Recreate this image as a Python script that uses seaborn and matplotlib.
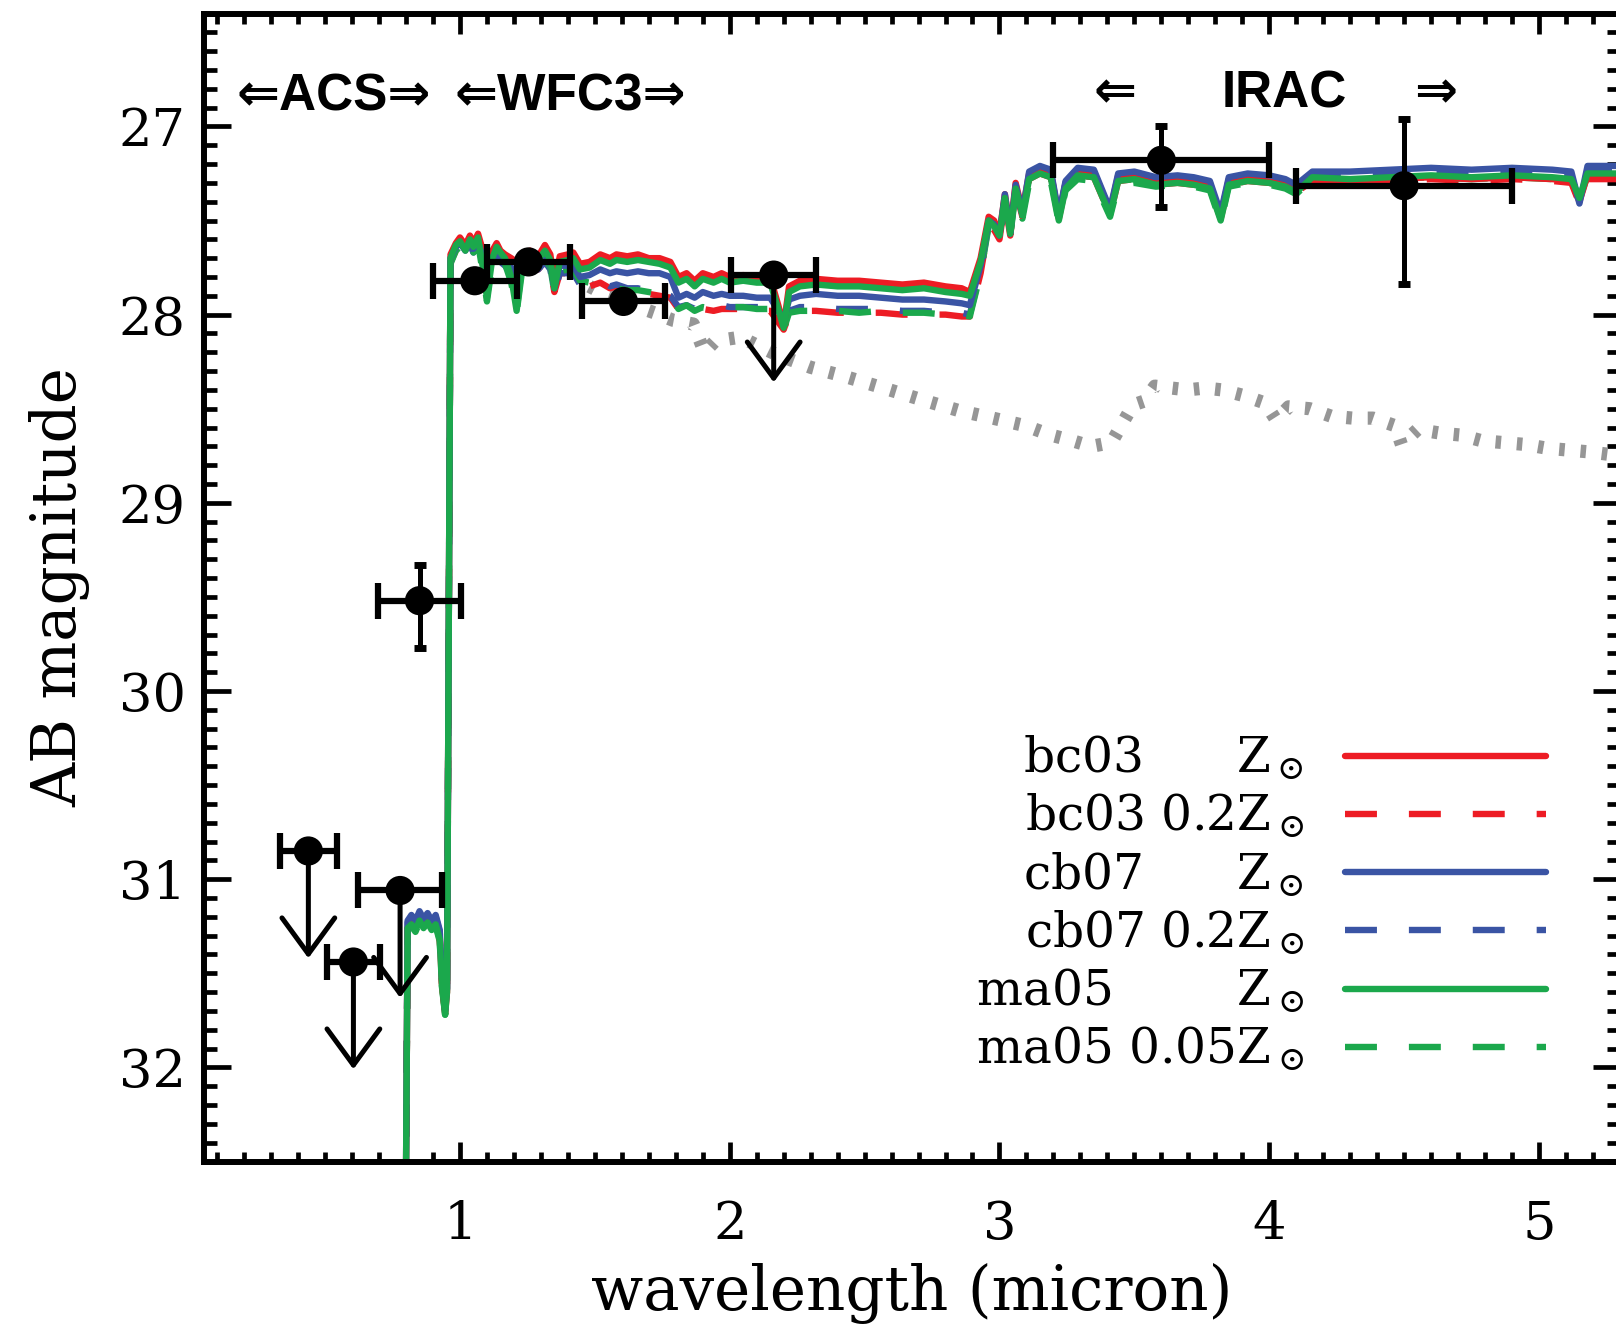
import matplotlib
matplotlib.use("Agg")
import matplotlib.pyplot as plt
from matplotlib.ticker import MultipleLocator
import seaborn as sns

# ---------------------------------------------------------------- model SEDs
wavelength = [
    0.770, 0.798, 0.806, 0.820, 0.835, 0.850, 0.865, 0.880, 0.895, 0.910,
    0.925, 0.933, 0.945, 0.952, 0.965, 0.985, 1.000, 1.020, 1.037, 1.050,
    1.067, 1.085, 1.100, 1.120, 1.136, 1.150, 1.167, 1.190, 1.210, 1.230,
    1.260, 1.290, 1.315, 1.335, 1.350, 1.370, 1.400, 1.420, 1.445, 1.480,
    1.520, 1.556, 1.580, 1.620, 1.660, 1.700, 1.740, 1.780, 1.810, 1.840,
    1.870, 1.900, 1.940, 1.970, 2.000, 2.050, 2.100, 2.150, 2.180, 2.200,
    2.220, 2.260, 2.320, 2.400, 2.480, 2.560, 2.640, 2.720, 2.800, 2.860,
    2.890, 2.930, 2.960, 2.980, 3.000, 3.020, 3.040, 3.060, 3.085, 3.110,
    3.150, 3.190, 3.220, 3.245, 3.290, 3.350, 3.410, 3.440, 3.500, 3.580,
    3.660, 3.720, 3.780, 3.820, 3.850, 3.920, 4.000, 4.060, 4.100, 4.160,
    4.300, 4.450, 4.600, 4.750, 4.900, 5.050, 5.120, 5.150, 5.180, 5.300,
]

bc03_solar = [
    33.50, 33.00, 31.26, 31.22, 31.26, 31.20, 31.24, 31.21, 31.25, 31.22,
    31.30, 31.55, 31.71, 31.60, 27.68, 27.62, 27.59, 27.63, 27.58, 27.62,
    27.57, 27.66, 27.70, 27.66, 27.62, 27.66, 27.68, 27.70, 27.72, 27.68,
    27.66, 27.69, 27.63, 27.68, 27.84, 27.69, 27.68, 27.67, 27.73, 27.72,
    27.68, 27.70, 27.68, 27.69, 27.68, 27.70, 27.70, 27.72, 27.80, 27.78,
    27.82, 27.78, 27.80, 27.78, 27.80, 27.79, 27.80, 27.80, 27.95, 28.06,
    27.85, 27.82, 27.81, 27.82, 27.82, 27.83, 27.84, 27.83, 27.85, 27.86,
    27.88, 27.70, 27.48, 27.50, 27.57, 27.36, 27.55, 27.30, 27.45, 27.25,
    27.22, 27.24, 27.48, 27.30, 27.23, 27.24, 27.45, 27.26, 27.25, 27.28,
    27.27, 27.28, 27.30, 27.48, 27.28, 27.27, 27.28, 27.30, 27.33, 27.28,
    27.29, 27.28, 27.27, 27.28, 27.27, 27.28, 27.29, 27.40, 27.26, 27.26,
]

bc03_02solar = [
    33.50, 33.00, 31.26, 31.23, 31.26, 31.21, 31.25, 31.22, 31.26, 31.23,
    31.31, 31.55, 31.71, 31.60, 27.72, 27.66, 27.63, 27.67, 27.62, 27.66,
    27.61, 27.72, 27.80, 27.70, 27.67, 27.71, 27.73, 27.78, 27.85, 27.74,
    27.73, 27.76, 27.72, 27.76, 27.88, 27.78, 27.78, 27.78, 27.84, 27.85,
    27.83, 27.86, 27.85, 27.87, 27.87, 27.89, 27.90, 27.91, 27.97, 27.96,
    27.99, 27.97, 27.98, 27.97, 27.97, 27.97, 27.98, 27.98, 28.04, 28.08,
    28.00, 27.98, 27.98, 27.99, 27.99, 27.99, 28.00, 28.00, 28.00, 28.01,
    28.01, 27.78, 27.53, 27.55, 27.60, 27.40, 27.58, 27.34, 27.48, 27.28,
    27.25, 27.27, 27.49, 27.32, 27.26, 27.27, 27.47, 27.29, 27.28, 27.31,
    27.30, 27.31, 27.33, 27.49, 27.31, 27.29, 27.30, 27.32, 27.35, 27.29,
    27.30, 27.29, 27.28, 27.29, 27.28, 27.29, 27.30, 27.41, 27.28, 27.28,
]

cb07_solar = [
    33.50, 33.00, 31.22, 31.19, 31.22, 31.17, 31.21, 31.18, 31.22, 31.19,
    31.27, 31.52, 31.70, 31.58, 27.70, 27.64, 27.62, 27.66, 27.61, 27.65,
    27.61, 27.70, 27.76, 27.70, 27.66, 27.70, 27.72, 27.75, 27.78, 27.72,
    27.71, 27.73, 27.69, 27.73, 27.86, 27.74, 27.74, 27.74, 27.80, 27.79,
    27.76, 27.78, 27.77, 27.78, 27.77, 27.78, 27.78, 27.80, 27.91, 27.89,
    27.91, 27.88, 27.90, 27.89, 27.90, 27.90, 27.91, 27.91, 27.98, 28.03,
    27.92, 27.90, 27.89, 27.90, 27.90, 27.91, 27.92, 27.92, 27.93, 27.94,
    27.95, 27.74, 27.50, 27.52, 27.58, 27.36, 27.56, 27.31, 27.46, 27.24,
    27.21, 27.23, 27.47, 27.29, 27.22, 27.23, 27.44, 27.25, 27.24, 27.27,
    27.26, 27.27, 27.29, 27.46, 27.27, 27.25, 27.26, 27.28, 27.31, 27.24,
    27.24, 27.23, 27.22, 27.23, 27.22, 27.23, 27.24, 27.41, 27.21, 27.21,
]

cb07_02solar = [
    33.50, 33.00, 31.23, 31.20, 31.23, 31.18, 31.22, 31.19, 31.23, 31.20,
    31.28, 31.53, 31.70, 31.58, 27.72, 27.66, 27.64, 27.68, 27.63, 27.67,
    27.63, 27.72, 27.78, 27.72, 27.68, 27.72, 27.74, 27.78, 27.82, 27.74,
    27.73, 27.76, 27.72, 27.76, 27.88, 27.78, 27.78, 27.78, 27.84, 27.84,
    27.82, 27.85, 27.84, 27.86, 27.86, 27.88, 27.88, 27.90, 27.96, 27.95,
    27.97, 27.95, 27.96, 27.95, 27.96, 27.96, 27.96, 27.96, 28.01, 28.05,
    27.98, 27.96, 27.96, 27.97, 27.97, 27.97, 27.98, 27.98, 27.99, 27.99,
    28.00, 27.77, 27.52, 27.54, 27.59, 27.38, 27.57, 27.32, 27.47, 27.26,
    27.23, 27.25, 27.48, 27.30, 27.24, 27.25, 27.45, 27.27, 27.26, 27.29,
    27.28, 27.29, 27.31, 27.47, 27.29, 27.27, 27.28, 27.30, 27.33, 27.26,
    27.26, 27.25, 27.24, 27.25, 27.24, 27.25, 27.26, 27.41, 27.23, 27.23,
]

ma05_solar = [
    33.50, 33.00, 31.26, 31.24, 31.27, 31.22, 31.26, 31.23, 31.27, 31.24,
    31.32, 31.56, 31.72, 31.60, 27.70, 27.63, 27.61, 27.66, 27.60, 27.64,
    27.59, 27.75, 27.91, 27.70, 27.64, 27.67, 27.70, 27.80, 27.98, 27.74,
    27.69, 27.71, 27.66, 27.71, 27.86, 27.72, 27.71, 27.70, 27.76, 27.75,
    27.71, 27.73, 27.71, 27.72, 27.71, 27.72, 27.73, 27.75, 27.83, 27.81,
    27.85, 27.81, 27.83, 27.81, 27.83, 27.82, 27.83, 27.83, 27.97, 28.07,
    27.88, 27.85, 27.84, 27.85, 27.85, 27.86, 27.87, 27.86, 27.88, 27.89,
    27.90, 27.72, 27.50, 27.53, 27.58, 27.38, 27.57, 27.33, 27.47, 27.28,
    27.25, 27.27, 27.50, 27.33, 27.26, 27.27, 27.47, 27.29, 27.28, 27.31,
    27.30, 27.31, 27.33, 27.50, 27.31, 27.29, 27.30, 27.32, 27.35, 27.27,
    27.28, 27.27, 27.26, 27.27, 27.26, 27.27, 27.28, 27.38, 27.25, 27.25,
]

ma05_005solar = [
    33.50, 33.00, 31.27, 31.25, 31.28, 31.23, 31.27, 31.24, 31.28, 31.25,
    31.33, 31.57, 31.72, 31.61, 27.73, 27.66, 27.64, 27.69, 27.63, 27.67,
    27.62, 27.78, 27.93, 27.73, 27.67, 27.70, 27.73, 27.83, 27.99, 27.77,
    27.73, 27.75, 27.70, 27.75, 27.88, 27.77, 27.76, 27.76, 27.82, 27.83,
    27.83, 27.85, 27.86, 27.87, 27.87, 27.88, 27.89, 27.90, 27.97, 27.95,
    27.98, 27.96, 27.97, 27.96, 27.96, 27.96, 27.97, 27.97, 28.05, 28.08,
    27.99, 27.98, 27.98, 27.98, 27.99, 27.98, 27.99, 27.99, 28.00, 28.00,
    28.01, 27.78, 27.53, 27.56, 27.60, 27.40, 27.58, 27.35, 27.49, 27.30,
    27.27, 27.29, 27.51, 27.34, 27.28, 27.29, 27.48, 27.31, 27.30, 27.32,
    27.31, 27.32, 27.34, 27.51, 27.32, 27.30, 27.31, 27.33, 27.36, 27.28,
    27.29, 27.28, 27.27, 27.28, 27.27, 27.28, 27.29, 27.39, 27.26, 27.26,
]

# lower-redshift comparison template (grey dotted)
alt_wavelength = [
    1.48, 1.52, 1.60, 1.66, 1.72, 1.79, 1.865, 1.906, 1.946, 2.04,
    2.17, 2.30, 2.43, 2.57, 2.73, 2.85, 2.975, 3.095, 3.19, 3.27,
    3.34, 3.415, 3.455, 3.495, 3.536, 3.576, 3.637, 3.696, 3.763, 3.825,
    3.905, 3.985, 4.025, 4.072, 4.15, 4.23, 4.31, 4.385, 4.466, 4.49,
    4.55, 4.635, 4.71, 4.787, 4.868, 4.95, 5.03, 5.11, 5.19, 5.30,
]
alt_mag = [
    27.85, 27.88, 27.92, 27.96, 27.99, 28.03, 28.05, 28.20, 28.14, 28.12,
    28.21, 28.28, 28.33, 28.39, 28.46, 28.51, 28.55, 28.59, 28.64, 28.67,
    28.70, 28.68, 28.58, 28.48, 28.46, 28.38, 28.39, 28.40, 28.39, 28.40,
    28.43, 28.47, 28.56, 28.49, 28.50, 28.54, 28.55, 28.55, 28.59, 28.69,
    28.61, 28.63, 28.64, 28.67, 28.68, 28.69, 28.71, 28.72, 28.73, 28.75,
]

# ---------------------------------------------------------------- photometry
det_wave = [0.850, 1.055, 1.254, 1.606, 3.600, 4.500]
det_mag = [29.52, 27.82, 27.72, 27.93, 27.18, 27.315]
det_xerr = [0.155, 0.155, 0.155, 0.155, 0.400, 0.400]

z850_wave = [0.850]
z850_mag = [29.52]
z850_err_bright = [0.19]
z850_err_faint = [0.25]

irac_wave = [3.600, 4.500]
irac_mag = [27.18, 27.315]
irac_err_bright = [0.18, 0.355]
irac_err_faint = [0.25, 0.52]

lim_wave = [0.438, 0.605, 0.778, 2.163]
lim_mag = [30.85, 31.44, 31.06, 27.79]
lim_xerr = [0.105, 0.099, 0.155, 0.158]
LIMIT_ARROW = 0.57

model_labels = ["bc03", "bc03", "cb07", "cb07", "ma05", "ma05"]
metallicities = ["", "0.2", "", "0.2", "", "0.05"]

RED, BLUE, GREEN = "#ED1C24", "#3A54A4", "#1BA84C"

# ---------------------------------------------------------------- styling
sns.set_style("ticks", {"axes.edgecolor": "black", "xtick.color": "black",
                        "ytick.color": "black", "text.color": "black",
                        "axes.labelcolor": "black"})
plt.rcParams["font.family"] = ["DejaVu Serif"]
plt.rcParams["mathtext.fontset"] = "dejavuserif"

W, H = 1616, 1327
fig = plt.figure(figsize=(W / 100, H / 100), dpi=100)
ax = fig.add_axes([203.7 / W, 1 - 1161.5 / H, 1416.2 / W, 1148.0 / H])

# grey comparison template
sns.lineplot(x=alt_wavelength, y=alt_mag, ax=ax, color="#969696", lw=9.5,
             linestyle=(0, (0.42, 1.2)), sort=False, estimator=None,
             zorder=1.5, legend=False)
ax.lines[-1].set_dash_capstyle("butt")

LW = 4.6
DASH = (0, (5.0, 5.0))
series = [
    (bc03_02solar, RED, DASH),
    (cb07_02solar, BLUE, DASH),
    (ma05_005solar, GREEN, DASH),
    (bc03_solar, RED, "-"),
    (cb07_solar, BLUE, "-"),
    (ma05_solar, GREEN, "-"),
]
handles = {}
for mags, col, ls in series:
    sns.lineplot(x=wavelength, y=mags, ax=ax, color=col, lw=LW, linestyle=ls,
                 sort=False, estimator=None, zorder=2, legend=False)
    ln = ax.lines[-1]
    ln.set_dash_capstyle("butt")
    handles[id(mags)] = ln

# horizontal (bandwidth) error bars
ax.errorbar(det_wave, det_mag, xerr=det_xerr, fmt="none", ecolor="k",
            elinewidth=4.5, capsize=13.3, capthick=4.5, zorder=4)
ax.errorbar(lim_wave, lim_mag, xerr=lim_xerr, fmt="none", ecolor="k",
            elinewidth=4.5, capsize=13.3, capthick=4.5, zorder=4)

# magnitude error bars
ax.errorbar(z850_wave, z850_mag, yerr=[z850_err_bright, z850_err_faint],
            fmt="none", ecolor="k", elinewidth=3.6, capsize=4.5, capthick=5,
            zorder=4)
_, irac_caps, _ = ax.errorbar(irac_wave, irac_mag,
                              yerr=[irac_err_bright, irac_err_faint],
                              fmt="none", ecolor="k", elinewidth=3.6,
                              capsize=4.5, capthick=5, zorder=4)
irac_caps[0].set_color("#c8c8c8")

# upper limits
for x, m in zip(lim_wave, lim_mag):
    ax.annotate("", xy=(x, m + LIMIT_ARROW), xytext=(x, m),
                arrowprops=dict(arrowstyle="->,head_length=26,head_width=19",
                                lw=3.6, color="k", shrinkA=0, shrinkB=0,
                                mutation_scale=1),
                zorder=4)

# photometric points
sns.scatterplot(x=det_wave + lim_wave, y=det_mag + lim_mag, ax=ax, color="k",
                s=441, edgecolor="none", zorder=5, legend=False)

# instrument coverage
hdr = dict(fontsize=37, fontweight="bold", ha="center", va="baseline",
           family=["Liberation Sans", "DejaVu Sans"], zorder=6)
ax.text(0.533, 26.917, "\u21d0ACS\u21d2", **hdr)
ax.text(1.41, 26.917, "\u21d0WFC3\u21d2", **hdr)
ax.text(3.43, 26.90, "\u21d0", **hdr)
ax.text(4.056, 26.90, "IRAC", **hdr)
ax.text(4.618, 26.90, "\u21d2", **hdr)

# axes
ax.set_xlim(0.05, 5.3)
ax.set_ylim(32.5, 26.4)
ax.xaxis.set_major_locator(MultipleLocator(1))
ax.xaxis.set_minor_locator(MultipleLocator(0.1))
ax.yaxis.set_major_locator(MultipleLocator(1))
ax.yaxis.set_minor_locator(MultipleLocator(0.1))
ax.tick_params(axis="x", which="major", direction="in", length=14.4, width=3.4,
               top=True, bottom=True, pad=27, labelsize=38)
ax.tick_params(axis="x", which="minor", direction="in", length=7.0, width=3.4,
               top=True, bottom=True)
ax.tick_params(axis="y", which="major", direction="in", length=19.4, width=3.4,
               left=True, right=True, pad=13, labelsize=38)
ax.tick_params(axis="y", which="minor", direction="in", length=9.4, width=3.4,
               left=True, right=True)
for sp in ax.spines.values():
    sp.set_linewidth(4.3)
    sp.set_visible(True)

ax.set_xlabel("wavelength (micron)", fontsize=44, labelpad=9)
ax.set_ylabel("AB magnitude", fontsize=44, labelpad=20)

# legend
FIG_SP, PUNCT_SP = "\u2007", "\u2008"
def pad_like(s):
    return "".join(PUNCT_SP if c == "." else FIG_SP for c in s)

ref_z = ["0.2", "0.2", "0.2", "0.2", "0.05", "0.05"]
labels = []
for name, z, ref in zip(model_labels, metallicities, ref_z):
    zt = z if z else pad_like(ref)
    labels.append(name + " " + zt + r"$\mathrm{Z}_\odot$")
leg_handles = [handles[id(m)] for m in
               (bc03_solar, bc03_02solar, cb07_solar, cb07_02solar,
                ma05_solar, ma05_005solar)]
ax.legend(leg_handles, labels, loc="center right",
          bbox_to_anchor=(0.9478, 0.2243), frameon=False, markerfirst=False,
          alignment="right", handlelength=4.14, handletextpad=0.84,
          labelspacing=0.2, borderpad=0, borderaxespad=0,
          prop=dict(size=35))

fig.savefig("out.png", dpi=100)
